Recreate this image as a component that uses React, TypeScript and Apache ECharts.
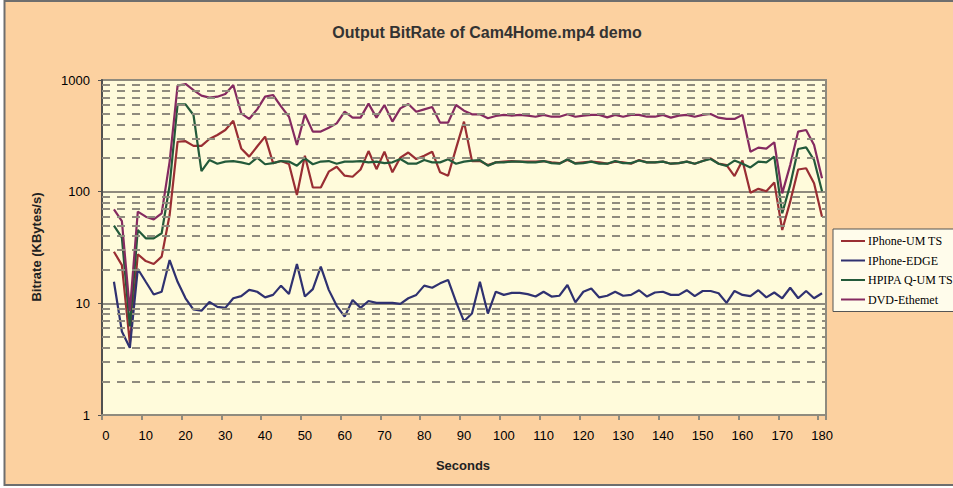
import React, { useEffect, useRef } from 'react';
import * as echarts from 'echarts';

// category axis: 0..180 s, every 2 s (Excel category axis, first slot empty)
const seconds: string[] = Array.from({ length: 91 }, (_, i) => String(i * 2));

const iphoneUmTs = [
  29, 22, 4.4, 27.5, 23.9, 22.5, 26.2, 61.8, 280, 283, 257, 257, 296, 322, 357, 432, 244, 206, 254, 311, 180, 188,
  177, 93.4, 210, 109, 109, 151, 167, 139, 136, 158, 231, 159, 228, 149, 202, 224, 196, 210, 228, 149, 139, 244, 424,
  188, 188, 173, 183, 186, 188, 186, 186, 186, 188, 183, 180, 192, 180, 183, 186, 183, 178, 186, 183, 178, 192,
  183, 183, 186, 178, 180, 186, 178, 188, 199, 178, 173, 138, 190, 98, 106, 101, 121, 45.4, 81.4, 158, 162, 119, 59.7,
];

const iphoneEdge = [
  15.6, 5.6, 4.0, 20.3, 15.6, 12.0, 12.7, 24.4, 15.6, 11.1, 8.8, 8.6, 10.3, 9.3, 9.1, 11.1, 11.6, 13.2, 12.7, 11.3, 11.9, 14.4,
  12.1, 22.5, 11.5, 13.4, 21.3, 13.2, 9.5, 7.6, 10.7, 9.1, 10.5, 10.1, 10.1, 10.1, 9.9, 11.1, 11.9, 14.4, 13.8, 15.1, 16.2, 10.3, 6.9,
  8.1, 15.6, 8.1, 12.7, 11.9, 12.4, 12.4, 12.1, 11.5, 12.7, 11.5, 11.7, 14.6, 10.2, 12.7, 13.6, 11.3, 11.7, 12.7, 11.7, 11.9, 13.1,
  11.5, 12.5, 12.7, 11.9, 11.9, 13.1, 11.6, 12.9, 12.9, 12.3, 10.1, 12.9, 11.9, 11.6, 13.1, 11.3, 12.5, 11.1, 13.8, 11.1, 12.9, 11.1, 12.3,
];

const hpipaQUmTs = [
  49.6, 38.7, 6.2, 45.4, 38.2, 38.2, 42.4, 114, 605, 605, 486, 153, 192, 178, 186, 188, 183, 176, 202, 176, 180, 188,
  186, 171, 199, 176, 186, 188, 178, 186, 186, 188, 183, 186, 180, 183, 196, 178, 178, 192, 183, 183, 195, 178, 186,
  190, 192, 171, 183, 183, 186, 186, 183, 183, 188, 180, 178, 195, 178, 180, 186, 178, 178, 188, 180, 180, 190,
  183, 183, 186, 178, 180, 186, 178, 188, 196, 178, 170, 190, 178, 165, 186, 183, 206, 64, 115, 241, 249, 192, 101,
];

const dvdEthemet = [
  69.5, 54.6, 8.5, 66.2, 59.7, 56.5, 64, 186, 890, 921, 813, 724, 695, 709, 749, 902, 503, 448, 546, 709, 734, 580,
  469, 262, 493, 345, 345, 374, 409, 520, 460, 460, 614, 460, 597, 424, 557, 610, 520, 546, 573, 415, 415, 597, 531,
  493, 493, 454, 476, 487, 480, 487, 480, 469, 487, 469, 469, 493, 469, 480, 487, 487, 463, 487, 469, 487, 487,
  469, 469, 487, 460, 480, 487, 469, 487, 496, 460, 448, 448, 487, 228, 248, 243, 277, 96.6, 173, 345, 357, 262, 132,
];

const seriesNames = ['IPhone-UM TS', 'IPhone-EDGE', 'HPIPA Q-UM TS', 'DVD-Ethemet'];
const seriesColors = ['#992E33', '#2F3170', '#235A3A', '#852A60'];
const seriesValues = [iphoneUmTs, iphoneEdge, hpipaQUmTs, dvdEthemet];

// dashed minor gridlines of the log axis
const minorLevels = [2, 3, 4, 5, 6, 7, 8, 9, 20, 30, 40, 50, 60, 70, 80, 90, 200, 300, 400, 500, 600, 700, 800, 900];

const titleText = 'Output BitRate of Cam4Home.mp4 demo';
const yTitle = 'Bitrate (KBytes/s)';
const xTitle = 'Seconds';

export default function App() {
  const ref = useRef<HTMLDivElement>(null);
  useEffect(() => {
    if (!ref.current) return;
    const chart = echarts.init(ref.current, undefined, { renderer: 'svg' });
    const sans = '"Liberation Sans", Arial, sans-serif';
    const gridGray = '#8F8B7E';
    const series: any[] = [
      {
        type: 'line',
        name: '__minor',
        data: seconds.map(() => null),
        z: 1,
        silent: true,
        markLine: {
          silent: true,
          symbol: ['none', 'none'],
          label: { show: false },
          animation: false,
          lineStyle: { color: gridGray, width: 2, type: [8, 7] },
          emphasis: { disabled: true },
          data: minorLevels.map((v) => ({ yAxis: v })),
        },
      },
    ];
    seriesValues.forEach((vals, i) => {
      series.push({
        type: 'line',
        name: seriesNames[i],
        data: [null, ...vals],
        showSymbol: false,
        symbol: 'none',
        connectNulls: false,
        z: 3,
        lineStyle: { color: seriesColors[i], width: 2.2 },
        itemStyle: { color: seriesColors[i] },
      });
    });
    chart.setOption({
      animation: false,
      backgroundColor: '#ffffff',
      graphic: [
        {
          type: 'rect',
          z: -100,
          shape: { x: 4.5, y: 1, width: 960, height: 484 },
          style: { fill: '#FCD1A0', stroke: '#6E6E6E', lineWidth: 2 },
          silent: true,
        },
        {
          type: 'text',
          x: 487,
          y: 32,
          style: {
            text: titleText,
            font: `bold 16px ${sans}`,
            fill: '#333333',
            textAlign: 'center',
            textVerticalAlign: 'middle',
          },
        },
        {
          type: 'text',
          x: 36,
          y: 247,
          rotation: Math.PI / 2,
          style: {
            text: yTitle,
            font: `bold 13px ${sans}`,
            fill: '#222222',
            textAlign: 'center',
            textVerticalAlign: 'middle',
          },
        },
        {
          type: 'text',
          x: 463,
          y: 465,
          style: {
            text: xTitle,
            font: `bold 13px ${sans}`,
            fill: '#222222',
            textAlign: 'center',
            textVerticalAlign: 'middle',
          },
        },
      ],
      legend: {
        data: seriesNames,
        orient: 'vertical',
        left: 833,
        top: 229,
        icon: 'rect',
        itemWidth: 24,
        itemHeight: 2,
        itemGap: 5.5,
        padding: [5, 8, 5, 8],
        backgroundColor: '#FFFCEB',
        borderColor: '#555555',
        borderWidth: 1,
        textStyle: { fontFamily: '"Liberation Serif", "DejaVu Serif", serif', fontSize: 12, color: '#000', lineHeight: 14, padding: [0, 0, 0, -2] },
        selectedMode: false,
      },
      grid: {
        left: 102,
        right: 127,
        top: 80,
        bottom: 73,
        show: true,
        backgroundColor: '#FFFBDB',
        borderColor: gridGray,
        borderWidth: 2,
        containLabel: false,
      },
      xAxis: {
        type: 'category',
        data: seconds,
        boundaryGap: true,
        axisLine: { show: true, lineStyle: { color: gridGray, width: 2 } },
        axisTick: { show: true, interval: 4, length: 5, lineStyle: { color: gridGray, width: 2 } },
        axisLabel: { interval: 4, margin: 14, fontFamily: sans, fontSize: 13, color: '#000' },
        splitLine: { show: false },
      },
      yAxis: {
        type: 'log',
        logBase: 10,
        min: 1,
        max: 1000,
        axisLine: { show: true, lineStyle: { color: '#505050', width: 2 } },
        axisTick: { show: true, length: 4, lineStyle: { color: '#505050', width: 1 } },
        axisLabel: { margin: 12, fontFamily: sans, fontSize: 13, color: '#000', formatter: (v: number) => String(Math.round(v)) },
        splitLine: { show: true, lineStyle: { color: gridGray, width: 2 } },
      },
      series,
    });
    return () => chart.dispose();
  }, []);
  return <div ref={ref} style={{ position: 'fixed', left: 0, top: 0, width: 953, height: 488 }} />;
}
